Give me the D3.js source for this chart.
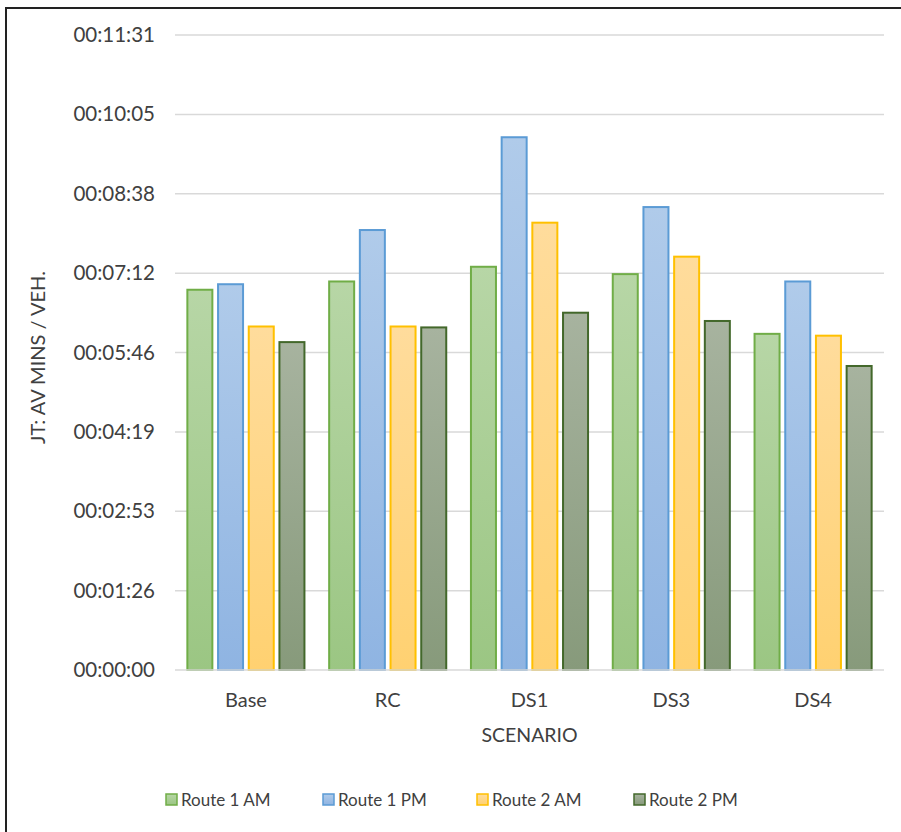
<!DOCTYPE html>
<html>
<head>
<meta charset="utf-8">
<script src="https://cdn.jsdelivr.net/npm/d3@7"></script>
<style>
  body { margin: 0; background: #fff; }
  text { font-family: Lato, "Open Sans", sans-serif; fill: #404040; }
</style>
</head>
<body>
<div id="chart"></div>
<script>
// values in seconds
const scenarios = ["Base", "RC", "DS1", "DS3", "DS4"];
const seriesNames = ["Route 1 AM", "Route 1 PM", "Route 2 AM", "Route 2 PM"];
const route1AM = [415, 424, 440, 432, 367];
const route1PM = [421, 480, 581, 505, 424];
const route2AM = [375, 375, 488, 451, 365];
const route2PM = [358, 374, 390, 381, 332];
const tickSecs = [0, 86.4, 172.8, 259.2, 345.6, 432, 518.4, 604.8, 691.2];
const tickLabels = ["00:00:00", "00:01:26", "00:02:53", "00:04:19", "00:05:46",
                    "00:07:12", "00:08:38", "00:10:05", "00:11:31"];

const strokes = ["#70ad47", "#5b9bd5", "#ffc000", "#43682b"];
const gradTop = ["#b7d6a6", "#b0cbea", "#ffdc9c", "#a7b39f"];
const gradBot = ["#9bc683", "#8fb4e2", "#ffd171", "#879a7b"];

const allSeries = [route1AM, route1PM, route2AM, route2PM];
const W = 901, H = 832;

const svg = d3.select("#chart").append("svg")
  .attr("width", W).attr("height", H);

const defs = svg.append("defs");
gradTop.forEach((c, i) => {
  const g = defs.append("linearGradient")
    .attr("id", "grad" + i)
    .attr("x1", 0).attr("y1", 0).attr("x2", 0).attr("y2", 1);
  g.append("stop").attr("offset", "0%").attr("stop-color", c);
  g.append("stop").attr("offset", "100%").attr("stop-color", gradBot[i]);
});

// frame (top + left only)
svg.append("line").attr("x1", 5).attr("x2", W).attr("y1", 8).attr("y2", 8)
  .attr("stroke", "#222").attr("stroke-width", 2);
svg.append("line").attr("x1", 6).attr("x2", 6).attr("y1", 7).attr("y2", H)
  .attr("stroke", "#222").attr("stroke-width", 2);

const plotL = 175, plotR = 884, plotT = 35, plotB = 670;

const y = d3.scaleLinear().domain([0, 691.2]).range([plotB, plotT]);
const x0 = d3.scaleBand().domain(scenarios).range([plotL, plotR]);
const x1 = d3.scaleBand().domain(d3.range(4)).range([0, x0.bandwidth()])
  .paddingInner(0.12).paddingOuter(0.37);

// gridlines
svg.append("g").selectAll("line")
  .data(tickSecs.slice(1))
  .enter().append("line")
  .attr("x1", plotL).attr("x2", plotR)
  .attr("y1", d => y(d)).attr("y2", d => y(d))
  .attr("stroke", "#d9d9d9").attr("stroke-width", 1.5);

// y tick labels
svg.append("g").selectAll("text")
  .data(tickSecs)
  .enter().append("text")
  .attr("x", 155)
  .attr("y", d => y(d) + 7)
  .attr("text-anchor", "end")
  .style("font-size", "20.5px")
  .text((d, i) => tickLabels[i]);

// bars
const groups = svg.append("g").selectAll("g")
  .data(scenarios)
  .enter().append("g")
  .attr("transform", d => "translate(" + x0(d) + ",0)");

groups.selectAll("rect")
  .data((d, ci) => allSeries.map((s, si) => ({ si: si, v: s[ci] })))
  .enter().append("rect")
  .attr("x", d => x1(d.si) + 1)
  .attr("width", x1.bandwidth() - 2)
  .attr("y", d => y(d.v) + 1)
  .attr("height", d => plotB - y(d.v) - 1)
  .attr("fill", d => "url(#grad" + d.si + ")")
  .attr("stroke", d => strokes[d.si])
  .attr("stroke-width", 2);

// x axis line
svg.append("line").attr("x1", plotL).attr("x2", plotR)
  .attr("y1", plotB).attr("y2", plotB)
  .attr("stroke", "#d9d9d9").attr("stroke-width", 1.5);

// x tick labels
svg.append("g").selectAll("text")
  .data(scenarios)
  .enter().append("text")
  .attr("x", d => x0(d) + x0.bandwidth() / 2)
  .attr("y", 707)
  .attr("text-anchor", "middle")
  .style("font-size", "20px")
  .text(d => d);

svg.append("text")
  .attr("x", (plotL + plotR) / 2).attr("y", 742)
  .attr("text-anchor", "middle")
  .style("font-size", "19.5px")
  .text("SCENARIO");

svg.append("text")
  .attr("transform", "translate(45," + ((plotT + plotB) / 2 + 5) + ") rotate(-90)")
  .attr("text-anchor", "middle")
  .style("font-size", "20px")
  .text("JT: AV MINS / VEH.");

// legend
const legendX = [166, 323, 477, 634];
const legend = svg.append("g").selectAll("g")
  .data(seriesNames)
  .enter().append("g")
  .attr("transform", (d, i) => "translate(" + legendX[i] + ",794)");
legend.append("rect")
  .attr("width", 11).attr("height", 11)
  .attr("fill", (d, i) => "url(#grad" + i + ")")
  .attr("stroke", (d, i) => strokes[i]).attr("stroke-width", 1.5);
legend.append("text")
  .attr("x", 15).attr("y", 12)
  .style("font-size", "17px")
  .text(d => d);
</script>
</body>
</html>
